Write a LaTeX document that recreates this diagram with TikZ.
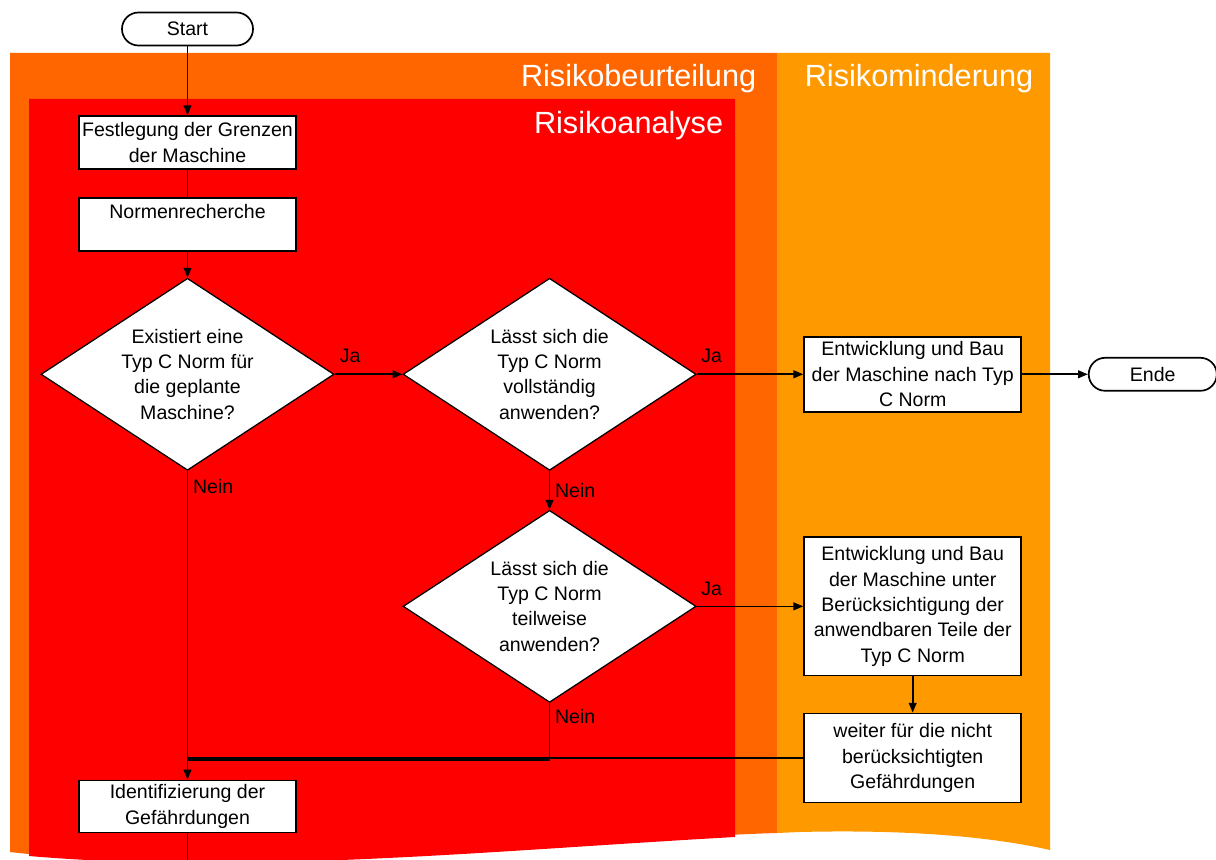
\documentclass[tikz,border=0pt]{standalone}
\usepackage{fontspec}
\setmainfont{Liberation Sans}
\usetikzlibrary{shapes.geometric,arrows.meta,positioning}
\definecolor{beurteilung}{HTML}{FF6600}
\definecolor{analyse}{HTML}{FF0000}
\definecolor{minderung}{HTML}{FF9900}

\begin{document}
\begin{tikzpicture}[x=0.025cm,y=-0.025cm,on grid,auto,line width=1.2pt,
	>={Triangle[length=7pt,width=5.5pt]},
	every node/.style={font=\fontsize{13.9}{18}\selectfont},
	box/.style={draw,fill=white,rectangle,minimum width=5.425cm,minimum height=1.325cm,align=center,inner sep=2pt},
	decision/.style={draw,fill=white,diamond,aspect=1.5,minimum width=7.325cm,minimum height=4.8cm,align=center,inner sep=0pt,line width=0.9pt},
	terminal/.style={draw,fill=white,rectangle,rounded corners=11.7pt,minimum height=0.825cm},
	region/.style={font=\fontsize{21.8}{26}\selectfont,text=white,anchor=base east,inner sep=0pt}]
	\useasboundingbox (0,0) rectangle (1216,860);

	\fill[beurteilung] (10,53) -- (777,53) -- (777,833) .. controls (600,838) and (250,880) .. (10,852) -- cycle;
	\fill[minderung] (777,53) -- (1050,53) -- (1050,850) .. controls (975,833) and (880,830) .. (800,832) -- (777,833) -- cycle;
	\fill[analyse] (29,99) -- (735,99) -- (735,837) .. controls (500,850) and (250,875) .. (29,856) -- cycle;

	\node[region] (t_beurteilung) at (757,87) {Risikobeurteilung};
	\node[region] (t_minderung) at (1034,87) {Risikominderung};
	\node[region] (t_analyse) at (724,134) {Risikoanalyse};

	\node[terminal,minimum width=3.275cm] (start) at (187.5,29) {Start};
	\node[box] (grenzen) [below=2.84cm of start] {Festlegung der Grenzen\\der Maschine};
	\node[box] (recherche) [below=2.04cm of grenzen] {Normenrecherche\\\mbox{}};
	\node[decision] (d_1) [below=3.75cm of recherche] {Existiert eine\\Typ C Norm für\\die geplante\\Maschine?};
	\node[decision] (d_2) [right=9.05cm of d_1] {Lässt sich die\\Typ C Norm\\vollständig\\anwenden?};
	\node[box,minimum height=1.875cm] (bau_1) [right=9.075cm of d_2] {Entwicklung und Bau\\der Maschine nach Typ\\C Norm};
	\node[terminal,minimum width=3.2cm] (ende) [right=6cm of bau_1] {Ende};
	\node[decision] (d_3) [below=5.8cm of d_2] {Lässt sich die\\Typ C Norm\\teilweise\\anwenden?};
	\node[box,minimum height=3.45cm] (bau_2) [right=9.075cm of d_3] {Entwicklung und Bau\\der Maschine unter\\Berücksichtigung der\\anwendbaren Teile der\\Typ C Norm};
	\node[box,minimum height=2.225cm] (weiter) [below=3.79cm of bau_2] {weiter für die nicht\\berücksichtigten\\Gefährdungen};
	\node[box,minimum height=1.3cm] (ident) [below=10.8cm of d_1] {Identifizierung der\\Gefährdungen};
	\coordinate (merge) at (187.5,760);
	\coordinate (unten) at (187.5,860);

	\path[->]
	(start) edge (grenzen)
	(recherche) edge (d_1)
	(d_1) edge node[pos=0.23,yshift=4pt] {Ja} (d_2)
	(d_2) edge node[pos=0.14,yshift=4pt] {Ja} (bau_1)
	(bau_1) edge (ende)
	(d_2) edge node {Nein} (d_3)
	(d_3) edge node[pos=0.14,yshift=4pt] {Ja} (bau_2)
	(bau_2) edge (weiter)
	(d_1) edge node[pos=0.05] {Nein} (ident);

	\draw (grenzen) -- (recherche);
	\draw (d_3.south) |- node[pos=0.12,anchor=west] {Nein} (merge);
	\draw (weiter.west) -- (weiter.west -| merge);
	\draw (ident) -- (unten);
\end{tikzpicture}
\end{document}
